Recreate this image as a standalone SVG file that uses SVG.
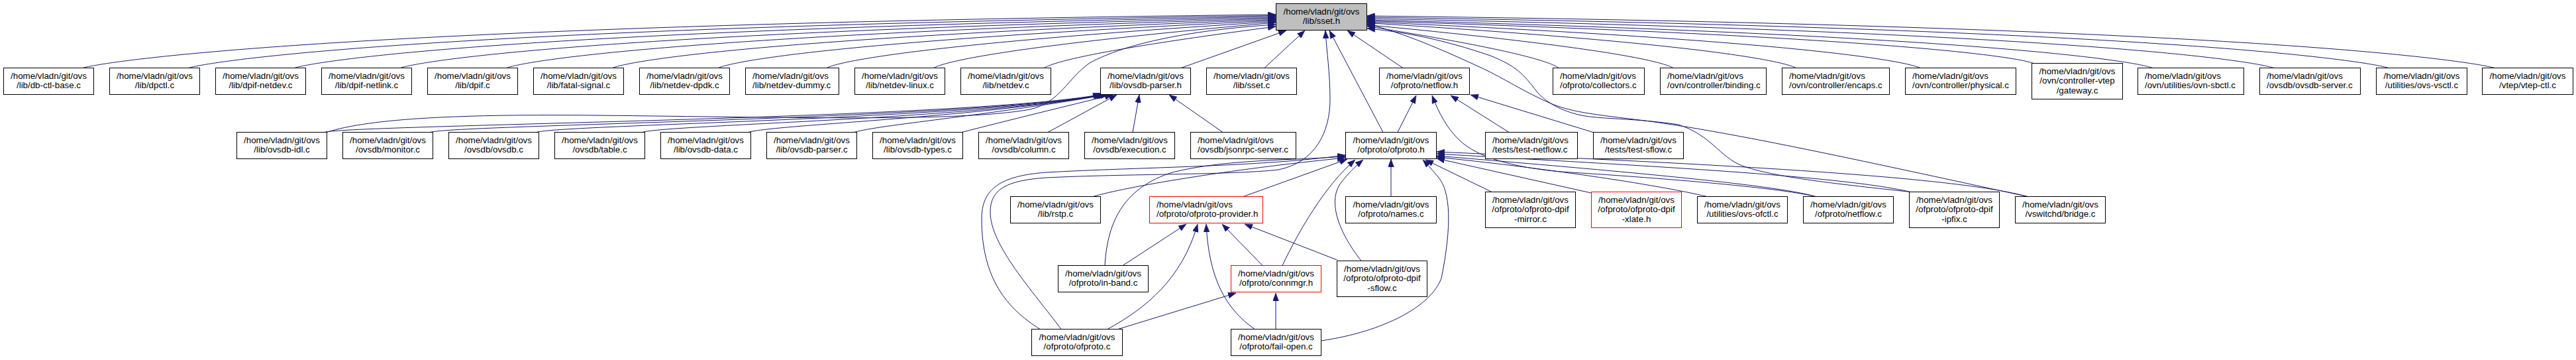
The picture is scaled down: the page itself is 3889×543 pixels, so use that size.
<svg xmlns="http://www.w3.org/2000/svg" width="3889" height="543" viewBox="0 0 3889 543">
<style>
.n rect{fill:#fff;stroke:#000;stroke-width:1}
.root rect{fill:#bfbfbf}
.red rect{stroke:#ff0000}
text{font-family:"Liberation Sans",Arial,sans-serif;font-size:13.33px;fill:#000}
.c text{text-anchor:middle}
#edges path{fill:none;stroke:#191970;stroke-width:1;marker-end:url(#ah)}
</style>
<defs>
<marker id="ah" viewBox="0 0 12 9" refX="12" refY="4.5" markerWidth="12" markerHeight="9" markerUnits="userSpaceOnUse" orient="auto"><path d="M0,0 L12,4.5 L0,9 z" fill="#191970" stroke="#191970" stroke-width="0.5"/></marker>
</defs>
<rect width="3889" height="543" fill="#fff"/>
<g id="edges">
<path d="M124.5,102.5 C161.5,92.5 502.5,38 1926,22"/>
<path d="M284.5,102.5 C319.5,92.5 629,42 1926,23.5"/>
<path d="M444.5,102.5 C476.5,92.5 755.5,46 1926,25"/>
<path d="M604.5,102.5 C634.5,92.5 882,50 1926,26.5"/>
<path d="M764.5,102.5 C792,92.5 1008.5,54 1926,28"/>
<path d="M924.5,102.5 C950,92.5 1134.5,58 1926,29.5"/>
<path d="M1084.5,102.5 C1107,92.5 1261,62 1926,31"/>
<path d="M1248,102.5 C1268,92.5 1390.5,66 1926,32.5"/>
<path d="M1409.5,102.5 C1427,93 1518,70 1926,34"/>
<path d="M1576,102.5 C1591,94 1649.5,76 1926,40"/>
<path d="M493,199.5 C560,178 700,172 900,174 C1200,177 1450,184 1555,165 C1600,155 1612,118 1645,95 C1700,65 1800,45 1926,37"/>
<path d="M1783,102.5 L1942,46"/>
<path d="M1909,102.5 L1970,46"/>
<path d="M2118,102.5 L2034,46"/>
<path d="M2088,199.5 L2007,46"/>
<path d="M1602,496.5 C1560,440 1495,370 1495,320 C1495,285 1520,272 1580,268 C1700,262 1860,264 1930,256 C1985,245 2008,200 2008,150 C2008,110 2003,80 2001,46"/>
<path d="M2353.5,102.5 C2341,94 2292.5,76 2063.5,39.5"/>
<path d="M2526,102.5 C2509,93 2429,72 2063.5,37.5"/>
<path d="M2711.5,102.5 C2692,92.5 2575.5,66 2063.5,34.5"/>
<path d="M2899,102.5 C2877,92.5 2723.5,62 2063.5,33"/>
<path d="M3070,95.5 C3045,86 2859,56 2063.5,31.5"/>
<path d="M3250,102.5 C3222,92.5 3001,54 2063.5,30"/>
<path d="M3433,102.5 C3402,92.5 3145.4,49 2063.5,28"/>
<path d="M3606,102.5 C3573,92.5 3282,44 2063.5,26"/>
<path d="M3766,102.5 C3730,92.5 3408.5,40 2063.5,24"/>
<path d="M3061,296.5 C2800,240 2600,196 2467,180 C2400,172 2370,168 2341,156 C2300,138 2270,118 2240,104 C2180,76 2120,50 2064,36"/>
<path d="M2884,289.5 C2780,278 2680,268 2630,250 C2595,236 2585,205 2534,188 C2470,178 2410,180 2383,173 C2350,165 2330,150 2320,138 C2300,112 2290,100 2250,84 C2180,60 2120,48 2064,43"/>
<path d="M489.5,199.5 C529.5,188 1462,180 1662,142.5"/>
<path d="M649.5,199.5 C689.5,188 1466,180 1664,142.5"/>
<path d="M809.5,199.5 C849.5,188 1468,180 1666,142.5"/>
<path d="M969.5,199.5 C1009.5,188 1470,180 1668,142.5"/>
<path d="M1129.5,199.5 C1169.5,188 1472,178 1670,142.5"/>
<path d="M1289.5,199.5 C1329.5,188 1480,176 1673,142.5"/>
<path d="M1452,199.5 C1520,182 1610,160 1680,143"/>
<path d="M1582,199.5 L1686,143"/>
<path d="M1710,199.5 L1720,143"/>
<path d="M1846,199.5 L1765,143"/>
<path d="M2110,199.5 L2138,144"/>
<path d="M2278,199.5 L2190,144"/>
<path d="M2405,199.5 L2220,143"/>
<path d="M2741,296.5 C2680,282 2500,268 2356,259 C2280,252 2230,236 2205,213 C2185,195 2172,170 2162,144"/>
<path d="M1650,296.5 C1700,282 1850,256 2031,238"/>
<path d="M1877,296.5 L2034,240"/>
<path d="M1570,496.5 C1520,465 1482,420 1482,330 C1482,285 1510,265 1580,260 C1720,252 1900,252 2031,234"/>
<path d="M1668,400.5 C1672,330 1700,282 1770,260 C1850,240 1950,242 2031,236"/>
<path d="M1936,400.5 C1960,350 2000,280 2046,241"/>
<path d="M2055,393.5 C2017,345 2005,300 2025,275 C2035,262 2047,250 2058,241"/>
<path d="M2100,296.5 L2100,240"/>
<path d="M1994.5,514 C2090,500 2160,462 2176,420 C2192,340 2190,290 2172,268 C2163,257 2155,248 2148,241"/>
<path d="M2252,289.5 L2152,241"/>
<path d="M2402,291 L2169,239"/>
<path d="M2577,296.5 C2500,278 2320,252 2169,237"/>
<path d="M2741,296.5 C2680,278 2420,256 2169,235"/>
<path d="M2884,289.5 C2780,265 2480,250 2169,232"/>
<path d="M3061,296.5 C2950,266 2600,248 2169,229"/>
<path d="M1695,400.5 L1791,338"/>
<path d="M1672,496.5 C1730,465 1785,420 1808,338"/>
<path d="M1894,496.5 C1850,465 1825,420 1821,338"/>
<path d="M1906,400.5 L1845,338"/>
<path d="M2018.5,392 L1879,338"/>
<path d="M1688,496.5 L1866,442"/>
<path d="M1926,496.5 L1926,442"/>
</g>
<g id="n_sset_h" class="n c root"><rect x="1926.5" y="5.5" width="137" height="40"/><text><tspan x="1995" y="21.5">/home/vladn/git/ovs</tspan><tspan x="1995" y="36">/lib/sset.h</tspan></text></g>
<g id="n_db_ctl_base" class="n c"><rect x="5.5" y="102.5" width="136" height="40"/><text><tspan x="73.5" y="118.5">/home/vladn/git/ovs</tspan><tspan x="73.5" y="133">/lib/db-ctl-base.c</tspan></text></g>
<g id="n_dpctl" class="n c"><rect x="165.5" y="102.5" width="136" height="40"/><text><tspan x="233.5" y="118.5">/home/vladn/git/ovs</tspan><tspan x="233.5" y="133">/lib/dpctl.c</tspan></text></g>
<g id="n_dpif_netdev" class="n c"><rect x="325.5" y="102.5" width="136" height="40"/><text><tspan x="393.5" y="118.5">/home/vladn/git/ovs</tspan><tspan x="393.5" y="133">/lib/dpif-netdev.c</tspan></text></g>
<g id="n_dpif_netlink" class="n c"><rect x="485.5" y="102.5" width="136" height="40"/><text><tspan x="553.5" y="118.5">/home/vladn/git/ovs</tspan><tspan x="553.5" y="133">/lib/dpif-netlink.c</tspan></text></g>
<g id="n_dpif" class="n c"><rect x="645.5" y="102.5" width="136" height="40"/><text><tspan x="713.5" y="118.5">/home/vladn/git/ovs</tspan><tspan x="713.5" y="133">/lib/dpif.c</tspan></text></g>
<g id="n_fatal_signal" class="n c"><rect x="805.5" y="102.5" width="136" height="40"/><text><tspan x="873.5" y="118.5">/home/vladn/git/ovs</tspan><tspan x="873.5" y="133">/lib/fatal-signal.c</tspan></text></g>
<g id="n_netdev_dpdk" class="n c"><rect x="965.5" y="102.5" width="136" height="40"/><text><tspan x="1033.5" y="118.5">/home/vladn/git/ovs</tspan><tspan x="1033.5" y="133">/lib/netdev-dpdk.c</tspan></text></g>
<g id="n_netdev_dummy" class="n"><rect x="1125.5" y="102.5" width="141" height="40"/><text><tspan x="1136" y="118.5">/home/vladn/git/ovs</tspan><tspan x="1136" y="133">/lib/netdev-dummy.c</tspan></text></g>
<g id="n_netdev_linux" class="n c"><rect x="1290.5" y="102.5" width="136" height="40"/><text><tspan x="1358.5" y="118.5">/home/vladn/git/ovs</tspan><tspan x="1358.5" y="133">/lib/netdev-linux.c</tspan></text></g>
<g id="n_netdev" class="n c"><rect x="1450.5" y="102.5" width="136" height="40"/><text><tspan x="1518.5" y="118.5">/home/vladn/git/ovs</tspan><tspan x="1518.5" y="133">/lib/netdev.c</tspan></text></g>
<g id="n_ovsdb_parser_h" class="n c"><rect x="1661.5" y="102.5" width="136" height="40"/><text><tspan x="1729.5" y="118.5">/home/vladn/git/ovs</tspan><tspan x="1729.5" y="133">/lib/ovsdb-parser.h</tspan></text></g>
<g id="n_sset_c" class="n c"><rect x="1821.5" y="102.5" width="136" height="40"/><text><tspan x="1889.5" y="118.5">/home/vladn/git/ovs</tspan><tspan x="1889.5" y="133">/lib/sset.c</tspan></text></g>
<g id="n_netflow_h" class="n c"><rect x="2082.5" y="102.5" width="136" height="40"/><text><tspan x="2150.5" y="118.5">/home/vladn/git/ovs</tspan><tspan x="2150.5" y="133">/ofproto/netflow.h</tspan></text></g>
<g id="n_collectors" class="n"><rect x="2344.5" y="102.5" width="138" height="40"/><text><tspan x="2355" y="118.5">/home/vladn/git/ovs</tspan><tspan x="2355" y="133">/ofproto/collectors.c</tspan></text></g>
<g id="n_binding" class="n"><rect x="2506.5" y="102.5" width="160" height="40"/><text><tspan x="2517" y="118.5">/home/vladn/git/ovs</tspan><tspan x="2517" y="133">/ovn/controller/binding.c</tspan></text></g>
<g id="n_encaps" class="n"><rect x="2690.5" y="102.5" width="162" height="40"/><text><tspan x="2701" y="118.5">/home/vladn/git/ovs</tspan><tspan x="2701" y="133">/ovn/controller/encaps.c</tspan></text></g>
<g id="n_physical" class="n"><rect x="2876.5" y="102.5" width="167" height="40"/><text><tspan x="2887" y="118.5">/home/vladn/git/ovs</tspan><tspan x="2887" y="133">/ovn/controller/physical.c</tspan></text></g>
<g id="n_gateway" class="n c"><rect x="3067.5" y="95.5" width="137" height="54"/><text><tspan x="3136" y="111.5">/home/vladn/git/ovs</tspan><tspan x="3136" y="126">/ovn/controller-vtep</tspan><tspan x="3136" y="140.5">/gateway.c</tspan></text></g>
<g id="n_ovn_sbctl" class="n"><rect x="3227.5" y="102.5" width="160" height="40"/><text><tspan x="3238" y="118.5">/home/vladn/git/ovs</tspan><tspan x="3238" y="133">/ovn/utilities/ovn-sbctl.c</tspan></text></g>
<g id="n_ovsdb_server" class="n"><rect x="3411.5" y="102.5" width="152" height="40"/><text><tspan x="3422" y="118.5">/home/vladn/git/ovs</tspan><tspan x="3422" y="133">/ovsdb/ovsdb-server.c</tspan></text></g>
<g id="n_ovs_vsctl" class="n c"><rect x="3587.5" y="102.5" width="137" height="40"/><text><tspan x="3656" y="118.5">/home/vladn/git/ovs</tspan><tspan x="3656" y="133">/utilities/ovs-vsctl.c</tspan></text></g>
<g id="n_vtep_ctl" class="n c"><rect x="3747.5" y="102.5" width="137" height="40"/><text><tspan x="3816" y="118.5">/home/vladn/git/ovs</tspan><tspan x="3816" y="133">/vtep/vtep-ctl.c</tspan></text></g>
<g id="n_ovsdb_idl" class="n c"><rect x="357.5" y="199.5" width="136" height="40"/><text><tspan x="425.5" y="215.5">/home/vladn/git/ovs</tspan><tspan x="425.5" y="230">/lib/ovsdb-idl.c</tspan></text></g>
<g id="n_monitor" class="n c"><rect x="517.5" y="199.5" width="136" height="40"/><text><tspan x="585.5" y="215.5">/home/vladn/git/ovs</tspan><tspan x="585.5" y="230">/ovsdb/monitor.c</tspan></text></g>
<g id="n_ovsdb_c" class="n c"><rect x="677.5" y="199.5" width="136" height="40"/><text><tspan x="745.5" y="215.5">/home/vladn/git/ovs</tspan><tspan x="745.5" y="230">/ovsdb/ovsdb.c</tspan></text></g>
<g id="n_table" class="n c"><rect x="837.5" y="199.5" width="136" height="40"/><text><tspan x="905.5" y="215.5">/home/vladn/git/ovs</tspan><tspan x="905.5" y="230">/ovsdb/table.c</tspan></text></g>
<g id="n_ovsdb_data" class="n c"><rect x="997.5" y="199.5" width="136" height="40"/><text><tspan x="1065.5" y="215.5">/home/vladn/git/ovs</tspan><tspan x="1065.5" y="230">/lib/ovsdb-data.c</tspan></text></g>
<g id="n_ovsdb_parser_c" class="n c"><rect x="1157.5" y="199.5" width="136" height="40"/><text><tspan x="1225.5" y="215.5">/home/vladn/git/ovs</tspan><tspan x="1225.5" y="230">/lib/ovsdb-parser.c</tspan></text></g>
<g id="n_ovsdb_types" class="n c"><rect x="1317.5" y="199.5" width="136" height="40"/><text><tspan x="1385.5" y="215.5">/home/vladn/git/ovs</tspan><tspan x="1385.5" y="230">/lib/ovsdb-types.c</tspan></text></g>
<g id="n_column" class="n c"><rect x="1477.5" y="199.5" width="136" height="40"/><text><tspan x="1545.5" y="215.5">/home/vladn/git/ovs</tspan><tspan x="1545.5" y="230">/ovsdb/column.c</tspan></text></g>
<g id="n_execution" class="n c"><rect x="1637.5" y="199.5" width="136" height="40"/><text><tspan x="1705.5" y="215.5">/home/vladn/git/ovs</tspan><tspan x="1705.5" y="230">/ovsdb/execution.c</tspan></text></g>
<g id="n_jsonrpc_server" class="n"><rect x="1797.5" y="199.5" width="159" height="40"/><text><tspan x="1808" y="215.5">/home/vladn/git/ovs</tspan><tspan x="1808" y="230">/ovsdb/jsonrpc-server.c</tspan></text></g>
<g id="n_ofproto_h" class="n c"><rect x="2031.5" y="199.5" width="137" height="40"/><text><tspan x="2100" y="215.5">/home/vladn/git/ovs</tspan><tspan x="2100" y="230">/ofproto/ofproto.h</tspan></text></g>
<g id="n_test_netflow" class="n"><rect x="2242.5" y="199.5" width="139" height="40"/><text><tspan x="2253" y="215.5">/home/vladn/git/ovs</tspan><tspan x="2253" y="230">/tests/test-netflow.c</tspan></text></g>
<g id="n_test_sflow" class="n c"><rect x="2405.5" y="199.5" width="136" height="40"/><text><tspan x="2473.5" y="215.5">/home/vladn/git/ovs</tspan><tspan x="2473.5" y="230">/tests/test-sflow.c</tspan></text></g>
<g id="n_rstp" class="n c"><rect x="1525.5" y="296.5" width="136" height="40"/><text><tspan x="1593.5" y="312.5">/home/vladn/git/ovs</tspan><tspan x="1593.5" y="327">/lib/rstp.c</tspan></text></g>
<g id="n_ofproto_provider" class="n red"><rect x="1735.5" y="296.5" width="171" height="40"/><text><tspan x="1746" y="312.5">/home/vladn/git/ovs</tspan><tspan x="1746" y="327">/ofproto/ofproto-provider.h</tspan></text></g>
<g id="n_names" class="n c"><rect x="2031.5" y="296.5" width="137" height="40"/><text><tspan x="2100" y="312.5">/home/vladn/git/ovs</tspan><tspan x="2100" y="327">/ofproto/names.c</tspan></text></g>
<g id="n_dpif_mirror" class="n c"><rect x="2242.5" y="289.5" width="136" height="54"/><text><tspan x="2310.5" y="305.5">/home/vladn/git/ovs</tspan><tspan x="2310.5" y="320">/ofproto/ofproto-dpif</tspan><tspan x="2310.5" y="334.5">-mirror.c</tspan></text></g>
<g id="n_dpif_xlate" class="n c red"><rect x="2402.5" y="289.5" width="136" height="54"/><text><tspan x="2470.5" y="305.5">/home/vladn/git/ovs</tspan><tspan x="2470.5" y="320">/ofproto/ofproto-dpif</tspan><tspan x="2470.5" y="334.5">-xlate.h</tspan></text></g>
<g id="n_ovs_ofctl" class="n c"><rect x="2562.5" y="296.5" width="136" height="40"/><text><tspan x="2630.5" y="312.5">/home/vladn/git/ovs</tspan><tspan x="2630.5" y="327">/utilities/ovs-ofctl.c</tspan></text></g>
<g id="n_netflow_c" class="n c"><rect x="2722.5" y="296.5" width="136" height="40"/><text><tspan x="2790.5" y="312.5">/home/vladn/git/ovs</tspan><tspan x="2790.5" y="327">/ofproto/netflow.c</tspan></text></g>
<g id="n_dpif_ipfix" class="n c"><rect x="2882.5" y="289.5" width="136" height="54"/><text><tspan x="2950.5" y="305.5">/home/vladn/git/ovs</tspan><tspan x="2950.5" y="320">/ofproto/ofproto-dpif</tspan><tspan x="2950.5" y="334.5">-ipfix.c</tspan></text></g>
<g id="n_bridge" class="n c"><rect x="3042.5" y="296.5" width="136" height="40"/><text><tspan x="3110.5" y="312.5">/home/vladn/git/ovs</tspan><tspan x="3110.5" y="327">/vswitchd/bridge.c</tspan></text></g>
<g id="n_in_band" class="n c"><rect x="1597.5" y="400.5" width="136" height="40"/><text><tspan x="1665.5" y="416.5">/home/vladn/git/ovs</tspan><tspan x="1665.5" y="431">/ofproto/in-band.c</tspan></text></g>
<g id="n_connmgr" class="n c red"><rect x="1858.5" y="400.5" width="136" height="40"/><text><tspan x="1926.5" y="416.5">/home/vladn/git/ovs</tspan><tspan x="1926.5" y="431">/ofproto/connmgr.h</tspan></text></g>
<g id="n_dpif_sflow" class="n c"><rect x="2018.5" y="393.5" width="136" height="54"/><text><tspan x="2086.5" y="409.5">/home/vladn/git/ovs</tspan><tspan x="2086.5" y="424">/ofproto/ofproto-dpif</tspan><tspan x="2086.5" y="438.5">-sflow.c</tspan></text></g>
<g id="n_ofproto_c" class="n c"><rect x="1557.5" y="496.5" width="137" height="40"/><text><tspan x="1626" y="512.5">/home/vladn/git/ovs</tspan><tspan x="1626" y="527">/ofproto/ofproto.c</tspan></text></g>
<g id="n_fail_open" class="n c"><rect x="1858.5" y="496.5" width="136" height="40"/><text><tspan x="1926.5" y="512.5">/home/vladn/git/ovs</tspan><tspan x="1926.5" y="527">/ofproto/fail-open.c</tspan></text></g>
</svg>
